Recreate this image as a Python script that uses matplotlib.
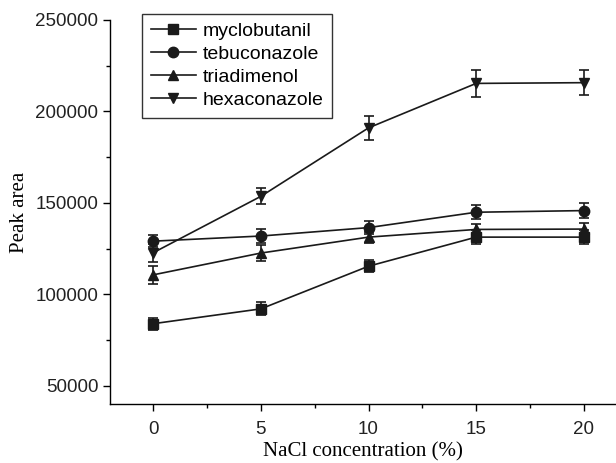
import matplotlib
matplotlib.use("Agg")
import matplotlib.pyplot as plt
from matplotlib.lines import Line2D
from matplotlib.ticker import MultipleLocator

nacl = [0, 5, 10, 15, 20]

myclobutanil = [84000, 92100, 115400, 131300, 131300]
myclobutanil_err = [3200, 3500, 3300, 4000, 4000]
tebuconazole = [129100, 131900, 136500, 144900, 145800]
tebuconazole_err = [3100, 4000, 3600, 3800, 4200]
triadimenol = [110700, 122600, 131300, 135500, 135700]
triadimenol_err = [5000, 4400, 3000, 3000, 3500]
hexaconazole = [122800, 153600, 191000, 215300, 215700]
hexaconazole_err = [5000, 4400, 6400, 7300, 6700]

series = [
    ("myclobutanil", myclobutanil, myclobutanil_err, "s"),
    ("tebuconazole", tebuconazole, tebuconazole_err, "o"),
    ("triadimenol", triadimenol, triadimenol_err, "^"),
    ("hexaconazole", hexaconazole, hexaconazole_err, "v"),
]

col = "#1a1a1a"
fig = plt.figure(figsize=(6.16, 4.63), dpi=100)
ax = fig.add_axes([0.179, 0.127, 0.821, 0.830])

handles = []
for name, vals, err, mk in series:
    ax.errorbar(nacl, vals, yerr=err, color=col, marker=mk, markersize=7.5,
                linewidth=1.2, elinewidth=1.2, capsize=3.5, capthick=1.2)
    handles.append(Line2D([], [], color=col, marker=mk, markersize=7.5,
                          linewidth=1.2, label=name))

ax.set_xlim(-2, 21.5)
ax.set_ylim(40000, 250000)
ax.xaxis.set_major_locator(MultipleLocator(5))
ax.xaxis.set_minor_locator(MultipleLocator(2.5))
ax.yaxis.set_minor_locator(MultipleLocator(25000))
ax.set_yticks([50000, 100000, 150000, 200000, 250000])

for side in ("top", "right"):
    ax.spines[side].set_visible(False)
for side in ("left", "bottom"):
    ax.spines[side].set_linewidth(1.0)

ax.tick_params(which="major", direction="out", length=5, width=1.0,
               labelsize=13.5, labelcolor="#222222")
ax.tick_params(axis="x", which="major", pad=7)
ax.tick_params(which="minor", direction="out", length=3, width=1.0)
for lab in ax.get_xticklabels() + ax.get_yticklabels():
    lab.set_family("Liberation Sans")

ax.set_xlabel("NaCl concentration (%)", family="Liberation Serif", fontsize=15, labelpad=3)
ax.set_ylabel("Peak area", family="Liberation Serif", fontsize=15, labelpad=5)

leg = ax.legend(handles=handles, loc="upper left", bbox_to_anchor=(0.063, 1.016),
                frameon=True, fancybox=False, edgecolor="#333333", framealpha=1,
                prop={"family": "Liberation Sans", "size": 14},
                handlelength=2.3, handletextpad=0.35, borderpad=0.45,
                labelspacing=0.28, borderaxespad=0)
leg.get_frame().set_linewidth(1.0)

fig.savefig("out.png", dpi=100)
